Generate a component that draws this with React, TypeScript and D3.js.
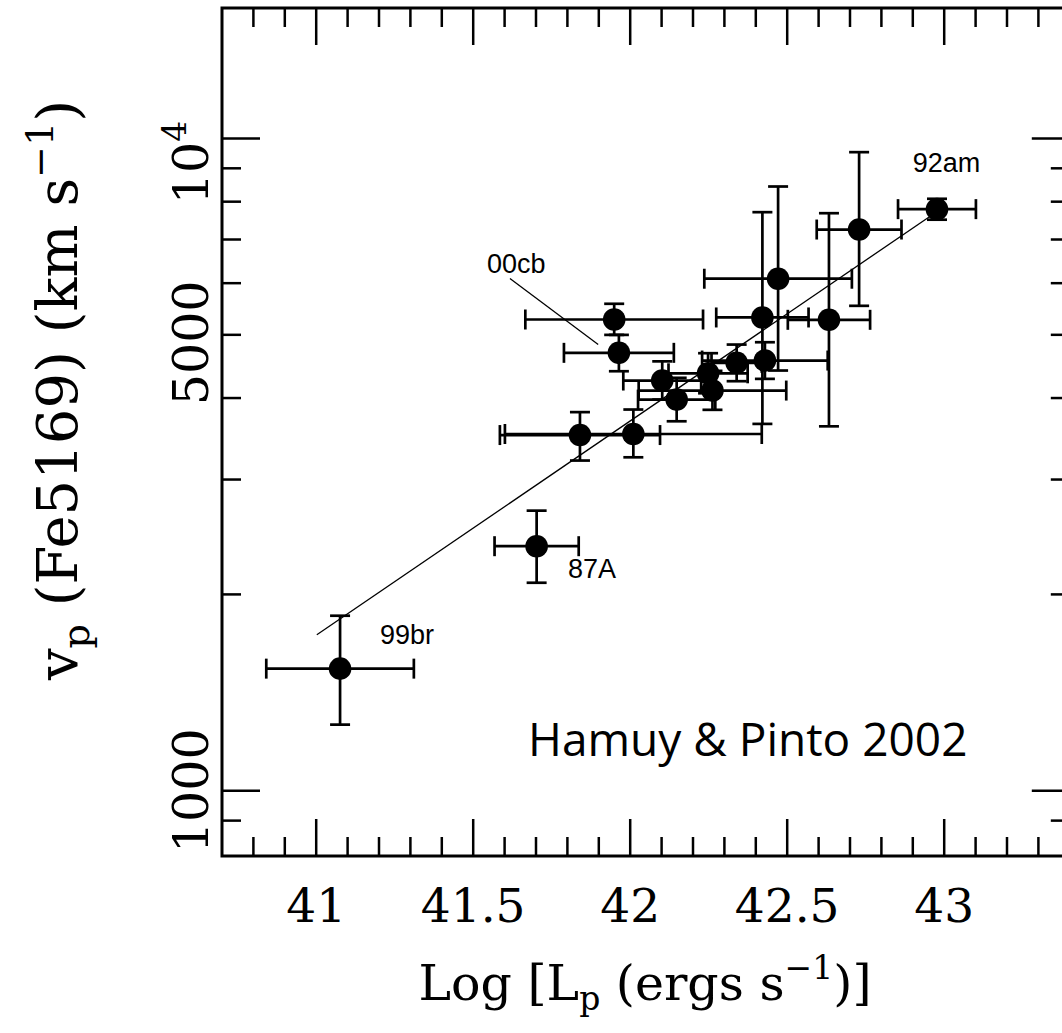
import React from 'react';
import * as d3 from 'd3';

// ---------- data ----------
const logL = [41.076, 41.702, 41.840, 42.010, 41.949, 41.964, 42.102, 42.148, 42.248, 42.262, 42.339, 42.429, 42.421, 42.471, 42.633, 42.729, 42.977];
const logLErr = [0.235, 0.134, 0.255, 0.409, 0.283, 0.175, 0.124, 0.123, 0.126, 0.235, 0.08, 0.2, 0.147, 0.235, 0.131, 0.135, 0.124];
const vel = [1539, 2371, 3510, 3523, 5278, 4692, 4255, 3978, 4365, 4107, 4529, 4566, 5316, 6095, 5272, 7251, 7792];
const velHi = [1855, 2688, 3806, 3841, 5579, 4999, 4553, 4296, 4686, 4403, 4831, 4871, 7709, 8440, 7681, 9528, 8082];
const velLo = [1263, 2084, 3208, 3245, 4999, 4397, 3978, 3685, 4068, 3837, 4245, 4280, 3651, 4408, 3620, 5539, 7507];

// fit line endpoints (data units)
const fitX = [41.002, 42.959];
const fitV = [1734, 7620];

// annotations (data units)
const labelText = ['92am', '00cb', '99br', '87A'];
const labelX = [42.900, 41.544, 41.203, 41.802];
const labelV = [8868, 6230, 1681, 2121];
const leaderX = [41.617, 41.898];
const leaderV = [6099, 4831];

// axes
const xDomain = [40.7, 43.4];
const vDomain = [Math.pow(10, 2.9), Math.pow(10, 4.2)];
const xMinorTicks = d3.range(408, 434).map((i) => i / 10);
const xLabelTicks = [41, 41.5, 42, 42.5, 43];
const xLabels = ['41', '41.5', '42', '42.5', '43'];
const vTicks = [900, 1000, 2000, 3000, 4000, 5000, 6000, 7000, 8000, 9000, 10000];
const vMajor = [1000, 10000];
const vLabelTicks = [10000, 5000, 1000];

export default function App() {
  const left = 222, top = 8, bottom = 856;
  const x = d3.scaleLinear().domain(xDomain).range([left, left + 2.7 * 314]);
  const y = d3.scaleLog().domain(vDomain).range([bottom, top]);
  const right = x(xDomain[1]);

  const serif = "'DejaVu Serif', serif";
  const sans = "'Liberation Sans', Arial, sans-serif";
  const sw = 2.7;
  const cap = 10;

  const isMajorX = (v: number) => Math.abs(v * 2 - Math.round(v * 2)) < 1e-6;
  const yLabelShift = (t: number) => (t === 10000 ? 24 : t === 5000 ? 8 : 0);

  return (
    <div style={{ position: 'absolute', left: 0, top: 0 }}>
      <svg width={1062} height={1033} style={{ display: 'block', background: '#fff' }}>
        <rect x={0} y={0} width={1062} height={1033} fill="#fff" />
        {/* frame */}
        <rect x={left} y={top} width={right - left} height={bottom - top} fill="none" stroke="#000" strokeWidth={3} />
        {/* x ticks */}
        {xMinorTicks.map((t, i) => {
          const len = isMajorX(t) ? 37 : 19;
          const px = x(t);
          return (
            <g key={'xt' + i}>
              <line x1={px} x2={px} y1={bottom} y2={bottom - len} stroke="#000" strokeWidth={2.5} />
              <line x1={px} x2={px} y1={top} y2={top + len} stroke="#000" strokeWidth={2.5} />
            </g>
          );
        })}
        {/* y ticks */}
        {vTicks.map((t, i) => {
          const len = vMajor.includes(t) ? 38 : 19;
          const py = y(t);
          return (
            <g key={'yt' + i}>
              <line x1={left} x2={left + len} y1={py} y2={py} stroke="#000" strokeWidth={2.5} />
              <line x1={right} x2={right - len} y1={py} y2={py} stroke="#000" strokeWidth={2.5} />
            </g>
          );
        })}
        {/* x tick labels */}
        {xLabelTicks.map((t, i) => (
          <text key={'xl' + i} x={x(t)} y={922} textAnchor="middle" fontFamily={serif} fontSize={47} fill="#000">
            {xLabels[i]}
          </text>
        ))}
        {/* y tick labels */}
        {vLabelTicks.map((t, i) => (
          <text
            key={'yl' + i}
            transform={`translate(208,${y(t) + yLabelShift(t)}) rotate(-90)`}
            textAnchor="middle"
            fontFamily={serif}
            fontSize={49}
            fill="#000"
          >
            {t === 10000 ? (
              <>
                10<tspan dy={-22} fontSize={33}>4</tspan>
              </>
            ) : (
              String(t)
            )}
          </text>
        ))}
        {/* x title */}
        <text x={645} y={1000} textAnchor="middle" fontFamily={serif} fontSize={49} fill="#000">
          Log [L<tspan dy={10} fontSize={33}>p</tspan>
          <tspan dy={-10}> (ergs  s</tspan>
          <tspan dy={-21} fontSize={33}>−1</tspan>
          <tspan dy={21}>)]</tspan>
        </text>
        {/* y title */}
        <text
          transform={`translate(77,${390}) rotate(-90)`}
          textAnchor="middle"
          fontFamily={serif}
          fontSize={56}
          fill="#000"
        >
          v<tspan dy={12} fontSize={38}>p</tspan>
          <tspan dy={-12}> (Fe5169) (km  s</tspan>
          <tspan dy={-24} fontSize={38}>−1</tspan>
          <tspan dy={24}>)</tspan>
        </text>

        {/* fit line */}
        <line x1={x(fitX[0])} y1={y(fitV[0])} x2={x(fitX[1])} y2={y(fitV[1])} stroke="#000" strokeWidth={1.3} />
        {/* leader line */}
        <line x1={x(leaderX[0])} y1={y(leaderV[0])} x2={x(leaderX[1])} y2={y(leaderV[1])} stroke="#000" strokeWidth={1.3} />

        {/* error bars */}
        {logL.map((l, i) => {
          const px = x(l);
          const py = y(vel[i]);
          const x0 = x(l - logLErr[i]);
          const x1 = x(l + logLErr[i]);
          const y0 = y(velHi[i]);
          const y1 = y(velLo[i]);
          return (
            <g key={'e' + i} stroke="#000" strokeWidth={sw}>
              <line x1={x0} x2={x1} y1={py} y2={py} />
              <line x1={x0} x2={x0} y1={py - cap} y2={py + cap} />
              <line x1={x1} x2={x1} y1={py - cap} y2={py + cap} />
              <line x1={px} x2={px} y1={y0} y2={y1} />
              <line x1={px - cap} x2={px + cap} y1={y0} y2={y0} />
              <line x1={px - cap} x2={px + cap} y1={y1} y2={y1} />
            </g>
          );
        })}
        {/* points */}
        {logL.map((l, i) => (
          <circle key={'p' + i} cx={x(l)} cy={y(vel[i])} r={11.3} fill="#000" />
        ))}

        {/* labels */}
        {labelText.map((s, i) => (
          <text key={'lb' + i} x={x(labelX[i])} y={y(labelV[i])} fontFamily={sans} fontSize={27} fill="#000">
            {s}
          </text>
        ))}

        <text x={528} y={756} fontFamily="'Open Sans', sans-serif" fontSize={46} fill="#000">
          Hamuy &amp; Pinto 2002
        </text>
      </svg>
    </div>
  );
}
